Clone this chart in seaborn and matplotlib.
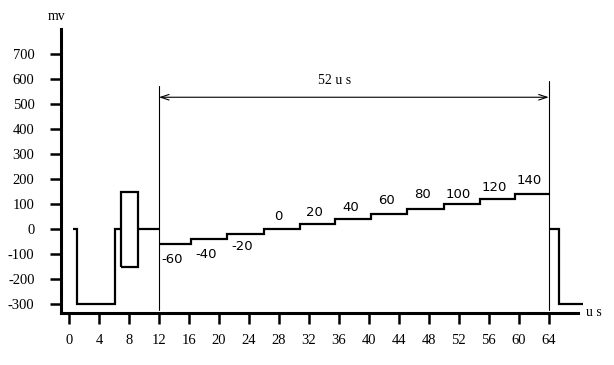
import matplotlib
matplotlib.use("Agg")
import matplotlib.pyplot as plt
import seaborn as sns
import pandas as pd

# ---------------- data ----------------
# sync pulse + colour burst region (us, mV)
sync_x = [0.57, 1.13, 1.13, 6.07, 6.07, 6.87]
sync_y = [0, 0, -300, -300, 0, 0]
burst_x = [6.87, 6.87, 9.2, 9.2, 6.87]
burst_y = [-150, 150, 150, -150, -150]
porch_x = [9.2, 12]
porch_y = [0, 0]
# staircase: step edges (us) and levels (mV)
step_edges = [12, 16.23, 21.12, 26.0, 30.76, 35.52, 40.32, 45.12, 49.96, 54.76, 59.56, 64]
step_levels = [-60, -40, -20, 0, 20, 40, 60, 80, 100, 120, 140]
step_labels = ["-60", "-40", "-20", "0", "20", "40", "60", "80", "100", "120", "140"]
# next line sync
next_x = [64.1, 65.3, 65.3, 68.6]
next_y = [0, 0, -300, -300]
# active line bracket
bracket_start, bracket_end = 12, 64
bracket_text = "52 u s"
y_ticks = [-300, -200, -100, 0, 100, 200, 300, 400, 500, 600, 700]
x_ticks = list(range(0, 65, 4))

# ---------------- layout ----------------
label_dy = [-61, -61, -51, 52, 45, 47, 56, 56, 36, 47, 53]

sns.set_style("ticks")
plt.rcParams["font.family"] = ["Liberation Serif", "DejaVu Serif"]
plt.rcParams["axes.unicode_minus"] = False
for k in ["text.color", "axes.edgecolor", "xtick.color", "ytick.color",
          "axes.labelcolor"]:
    plt.rcParams[k] = "black"

fig = plt.figure(figsize=(6.14, 3.65), dpi=100)
ax = fig.add_axes([61 / 614, 52 / 365, 517 / 614, 284 / 365])

lw = 1.6
def seg(xs, ys, clip=True):
    df = pd.DataFrame({"t": xs, "v": ys})
    n0 = len(ax.lines)
    sns.lineplot(data=df, x="t", y="v", sort=False, estimator=None,
                 color="black", lw=lw, ax=ax)
    for ln in ax.lines[n0:]:
        ln.set_clip_on(clip)
        ln.set_solid_joinstyle("miter")
        ln.set_solid_capstyle("butt")

seg(sync_x, sync_y)
seg(burst_x, burst_y)
seg(porch_x, porch_y)

sx, sy = [], []
for i, lev in enumerate(step_levels):
    sx += [step_edges[i], step_edges[i + 1]]
    sy += [lev, lev]
seg(sx, sy)
seg(next_x, next_y, clip=False)

# step labels
for i, (lev, lab) in enumerate(zip(step_levels, step_labels)):
    cx = (step_edges[i] + step_edges[i + 1]) / 2 - 0.4
    ax.text(cx, lev + label_dy[i], lab, ha="center", va="center",
            fontsize=9.5, family=["DejaVu Sans"], color="black")

# bracket lines and arrow
ax.plot([bracket_start, bracket_start], [-324, 572], color="black", lw=0.8)
ax.plot([bracket_end, bracket_end], [-324, 593], color="black", lw=0.8)
ax.annotate("", xy=(bracket_start, 527), xytext=(bracket_end, 527),
            arrowprops=dict(arrowstyle="<->,head_length=0.6,head_width=0.2",
                            lw=0.8, color="black", shrinkA=0, shrinkB=0))
ax.text(35.4, 593, bracket_text, ha="center", va="center", fontsize=10)

ax.set_xlim(-1.07, 67.9)
ax.set_ylim(-336, 800)
ax.set_xticks(x_ticks)
ax.set_yticks(y_ticks)
ax.set_xlabel("")
ax.set_ylabel("")
sns.despine(ax=ax)
for s in ["left", "bottom"]:
    ax.spines[s].set_linewidth(2.2)
    ax.spines[s].set_color("black")
ax.tick_params(axis="both", direction="out", length=8, width=1.8,
               labelsize=10.5, colors="black")
ax.tick_params(axis="y", pad=11)
ax.tick_params(axis="x", pad=7)

fig.text(57 / 614, 1 - 17 / 365, "mv", ha="center", va="center", fontsize=10)
fig.text(594 / 614, 1 - 313 / 365, "u s", ha="center", va="center", fontsize=10)

fig.savefig("out.png", dpi=100)
